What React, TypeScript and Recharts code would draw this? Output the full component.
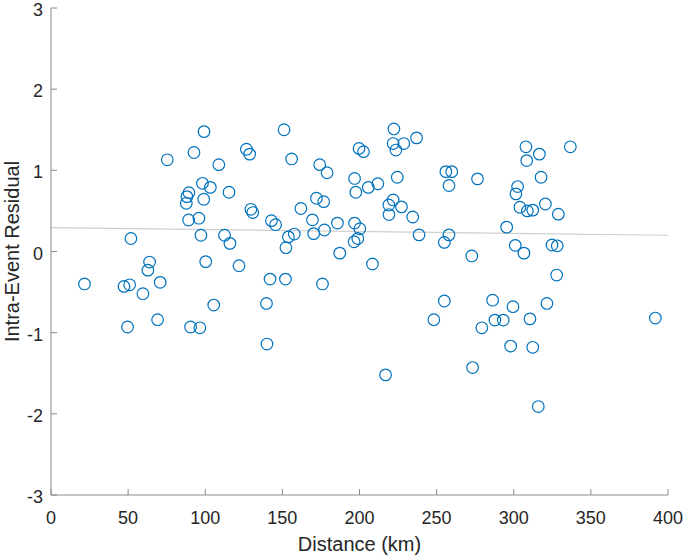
import React from 'react';
import { ScatterChart, Scatter, XAxis, YAxis, ReferenceLine } from 'recharts';

const distances: number[] = [
  21.7, 47.3, 51, 51.8, 63.9, 62.8, 59.6, 70.8, 49.6, 69.1,
  90.5, 96.5, 75.4, 92.7, 88.1, 89.4, 87.7, 89.2, 99.2, 108.8,
  98.2, 103.3, 99, 115.4, 95.9, 97.2, 112.5, 116, 100.3, 121.9,
  142, 152, 176, 105.5, 139.7, 140, 126.7, 128.8, 151.1, 156,
  174.2, 179, 129.6, 130.8, 142.9, 145.6, 162, 172.1, 176.8, 169.5,
  185.7, 170.3, 177.3, 153.9, 157.7, 152.3, 187.2,
  196.8, 197.6, 205.7, 211.9, 199.7, 202.6, 222.3, 221.8, 228.7,
  223.6, 237, 224.5, 221.8, 219, 227.2, 219.1, 234.5, 196.8, 200.2,
  196.5, 198.9, 208.4, 238.6, 258, 255, 256, 259.8, 258, 276.5,
  272.8, 295.4, 255, 248.2, 286.3, 279.3, 287.8, 293.2, 216.9, 273.3,
  307.9, 316.6, 308.4, 336.7, 317.7, 302.5, 301.4, 304, 308.8, 312.3,
  320.5, 328.9, 301, 306.6, 324.8, 328.2, 327.8, 299.5, 321.5, 310.5,
  391.8, 298, 312.3, 315.9,
];

const residuals: number[] = [
  -0.4, -0.43, -0.41, 0.16, -0.13, -0.23, -0.52, -0.38, -0.93, -0.84,
  -0.93, -0.94, 1.13, 1.22, 0.676, 0.725, 0.594, 0.388, 1.477, 1.07,
  0.84, 0.79, 0.644, 0.73, 0.41, 0.2, 0.2, 0.1, -0.125, -0.175,
  -0.34, -0.34, -0.4, -0.66, -0.64, -1.14, 1.26, 1.2, 1.5, 1.14,
  1.07, 0.97, 0.52, 0.48, 0.38, 0.33, 0.53, 0.656, 0.614, 0.39,
  0.35, 0.22, 0.265, 0.18, 0.215, 0.047, -0.02,
  0.9, 0.73, 0.79, 0.835, 1.27, 1.23, 1.51, 1.33, 1.33,
  1.25, 1.4, 0.915, 0.635, 0.573, 0.55, 0.455, 0.425, 0.35, 0.28,
  0.12, 0.16, -0.154, 0.205, 0.205, 0.112, 0.984, 0.984, 0.813, 0.895,
  -0.055, 0.3, -0.61, -0.84, -0.6, -0.94, -0.845, -0.845, -1.52, -1.43,
  1.29, 1.2, 1.12, 1.29, 0.915, 0.8, 0.71, 0.545, 0.5, 0.51,
  0.585, 0.46, 0.076, -0.02, 0.08, 0.07, -0.29, -0.68, -0.64, -0.83,
  -0.82, -1.165, -1.18, -1.91,
];

const xTicks: number[] = [0, 50, 100, 150, 200, 250, 300, 350, 400];
const yTicks: number[] = [-3, -2, -1, 0, 1, 2, 3];

const trendX: number[] = [0, 400];
const trendY: number[] = [0.294, 0.2];

const xLabel = 'Distance (km)';
const yLabel = 'Intra-Event Residual';

const points = distances.map((d, i) => ({ x: d, y: residuals[i] }));

const FONT = '"Liberation Sans", Arial, Helvetica, sans-serif';
const AXIS_COLOR = '#8a8a8a';
const TEXT_COLOR = '#262626';

const XTick = (props: any) => {
  const { x, y, payload } = props;
  return (
    <g>
      <line x1={x} y1={y} x2={x} y2={y - 6} stroke={AXIS_COLOR} strokeWidth={1} />
      <text
        x={x}
        y={y + 23}
        textAnchor="middle"
        dominantBaseline="central"
        fontSize={18}
        fontFamily={FONT}
        fill={TEXT_COLOR}
      >
        {payload.value}
      </text>
    </g>
  );
};

const YTick = (props: any) => {
  const { x, y, payload } = props;
  return (
    <g>
      <line x1={x} y1={y} x2={x + 6} y2={y} stroke={AXIS_COLOR} strokeWidth={1} />
      <text
        x={x - 8}
        y={y + 2}
        textAnchor="end"
        dominantBaseline="central"
        fontSize={18}
        fontFamily={FONT}
        fill={TEXT_COLOR}
      >
        {payload.value}
      </text>
    </g>
  );
};

const XLabel = (props: any) => {
  const vb = props.viewBox || {};
  const cx = (vb.x || 0) + (vb.width || 0) / 2;
  const cy = (vb.y || 0) + 49;
  return (
    <text x={cx} y={cy} textAnchor="middle" dominantBaseline="central" fontSize={20} fontFamily={FONT} fill={TEXT_COLOR}>
      {xLabel}
    </text>
  );
};

const YLabel = (props: any) => {
  const vb = props.viewBox || {};
  const cx = 12;
  const cy = (vb.y || 0) + (vb.height || 0) / 2;
  return (
    <text
      x={cx}
      y={cy}
      transform={`rotate(-90 ${cx} ${cy})`}
      textAnchor="middle"
      dominantBaseline="central"
      fontSize={20}
      fontFamily={FONT}
      fill={TEXT_COLOR}
    >
      {yLabel}
    </text>
  );
};

const Ring = (props: any) => {
  const { cx, cy } = props;
  if (cx == null || cy == null) return null;
  return <circle cx={cx} cy={cy} r={5.8} fill="none" stroke="#0072BD" strokeWidth={1.2} />;
};

export default function App() {
  return (
    <div style={{ position: 'absolute', left: 0, top: 0, width: 685, height: 557, background: '#fff' }}>
      <ScatterChart width={685} height={557} margin={{ top: 8, right: 17, bottom: 0, left: 0 }}>
        <XAxis
          type="number"
          dataKey="x"
          domain={[0, 400]}
          ticks={xTicks}
          interval={0}
          height={62}
          tickSize={0}
          tickMargin={0}
          tickLine={false}
          axisLine={{ stroke: AXIS_COLOR, strokeWidth: 1 }}
          tick={<XTick />}
          allowDataOverflow
          label={<XLabel />}
        />
        <YAxis
          type="number"
          dataKey="y"
          domain={[-3, 3]}
          ticks={yTicks}
          interval={0}
          width={51}
          tickSize={0}
          tickMargin={0}
          tickLine={false}
          axisLine={{ stroke: AXIS_COLOR, strokeWidth: 1 }}
          tick={<YTick />}
          allowDataOverflow
          label={<YLabel />}
        />
        <ReferenceLine
          segment={[
            { x: trendX[0], y: trendY[0] },
            { x: trendX[1], y: trendY[1] },
          ]}
          stroke="#cfcfcf"
          strokeWidth={1.2}
        />
        <Scatter data={points} shape={<Ring />} isAnimationActive={false} />
      </ScatterChart>
    </div>
  );
}
